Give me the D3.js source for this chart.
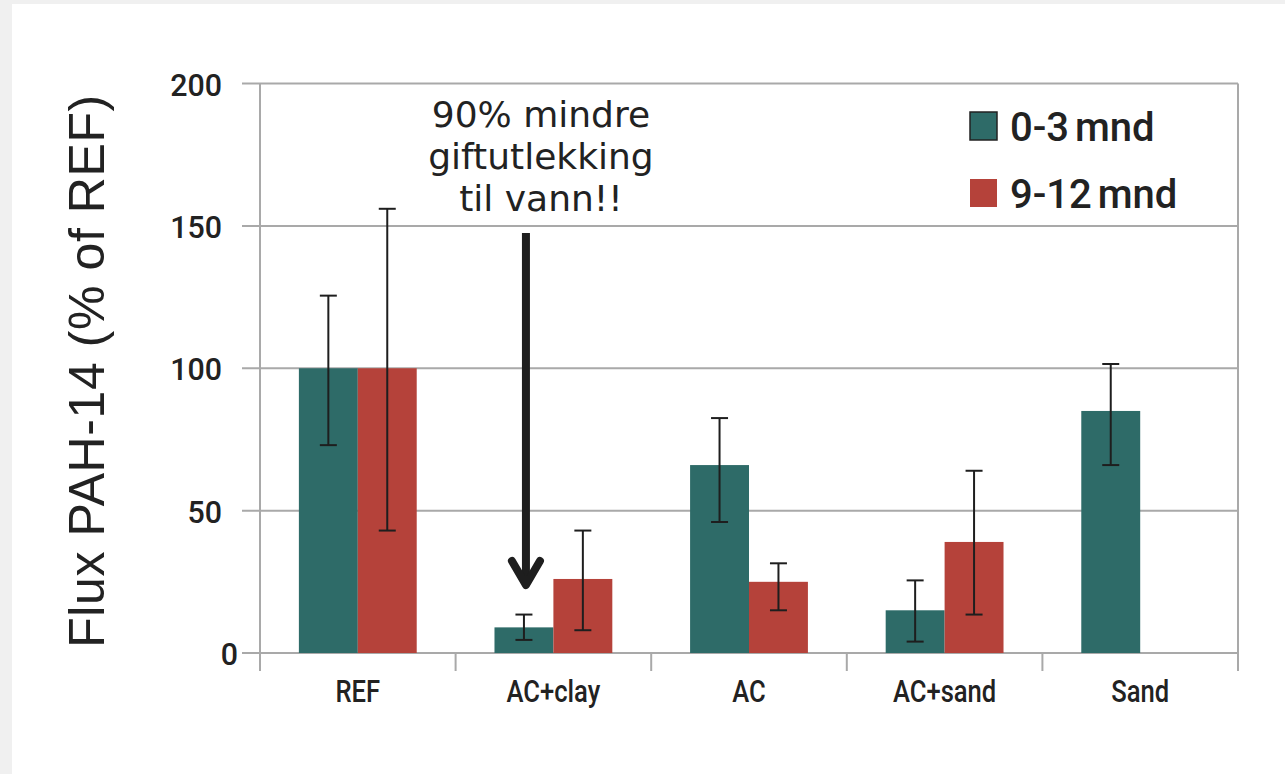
<!DOCTYPE html>
<html>
<head>
<meta charset="utf-8">
<script src="https://cdn.jsdelivr.net/npm/d3@7"></script>
<style>
  html, body { margin: 0; padding: 0; background: #f0f0f0; }
  svg { display: block; }
</style>
</head>
<body>
<div id="chart"></div>
<script>
const categories = ['REF', 'AC+clay', 'AC', 'AC+sand', 'Sand'];
const seriesNames = ['0-3 mnd', '9-12 mnd'];
const seriesColors = ['#2e6b68', '#b5423a'];

// bar heights (% of REF)
const early = [100, 9, 66, 15, 85];
const late = [100, 26, 25, 39, null];
// error bars: low / high ends
const earlyLow = [73, 4.6, 46, 4, 66];
const earlyHigh = [125.5, 13.5, 82.5, 25.5, 101.5];
const lateLow = [43, 8, 15, 13.5, null];
const lateHigh = [156, 43, 31.5, 64, null];

const yTicks = [0, 50, 100, 150, 200];
const note = ['90% mindre', 'giftutlekking', 'til vann!!'];

const W = 1285, H = 774;
const plot = { left: 260, right: 1238, top: 83.5, bottom: 653 };

const svg = d3.select('#chart').append('svg')
  .attr('width', W)
  .attr('height', H);

// white panel
svg.append('rect')
  .attr('x', 12).attr('y', 4)
  .attr('width', W - 12).attr('height', H - 4)
  .attr('fill', '#fff');

const x = d3.scaleBand()
  .domain(categories)
  .range([plot.left, plot.right]);
const xSub = d3.scaleBand()
  .domain(seriesNames)
  .range([0, x.bandwidth()])
  .paddingOuter(0.66);
const y = d3.scaleLinear()
  .domain([0, 200])
  .range([plot.bottom, plot.top]);

const gridColor = '#a9a9a9';

// horizontal grid + y ticks
const grid = svg.append('g');
grid.selectAll('line.h')
  .data(yTicks)
  .join('line')
  .attr('class', 'h')
  .attr('x1', plot.left - 18)
  .attr('x2', plot.right)
  .attr('y1', d => y(d))
  .attr('y2', d => y(d))
  .attr('stroke', gridColor)
  .attr('stroke-width', 2);

grid.selectAll('text.yt')
  .data(yTicks)
  .join('text')
  .attr('class', 'yt')
  .attr('transform', d => `translate(${d === 0 ? plot.left - 22 : plot.left - 38},${y(d) + 12}) scale(0.95,1)`)
  .attr('text-anchor', 'end')
  .style('font-family', 'Roboto, sans-serif')
  .style('font-size', '32px')
  .style('font-weight', 500)
  .style('fill', '#222')
  .text(d => d);

// vertical frame lines
[plot.left, plot.right].forEach(px => {
  grid.append('line')
    .attr('x1', px).attr('x2', px)
    .attr('y1', plot.top).attr('y2', plot.bottom + 18)
    .attr('stroke', gridColor)
    .attr('stroke-width', 2);
});
// category separators below the axis
grid.selectAll('line.sep')
  .data(categories.slice(1))
  .join('line')
  .attr('class', 'sep')
  .attr('x1', d => x(d)).attr('x2', d => x(d))
  .attr('y1', plot.bottom).attr('y2', plot.bottom + 18)
  .attr('stroke', gridColor)
  .attr('stroke-width', 2);

// x labels (narrow grotesque look)
svg.append('g').selectAll('text')
  .data(categories)
  .join('text')
  .attr('transform', d => `translate(${x(d) + x.bandwidth() / 2},702) scale(0.8,1)`)
  .attr('text-anchor', 'middle')
  .style('font-family', 'Roboto, sans-serif')
  .style('font-size', '32px')
  .style('font-weight', 500)
  .style('fill', '#222')
  .text(d => d);

// bars
const rows = categories.map((c, i) => ({
  cat: c,
  vals: [
    { s: seriesNames[0], v: early[i], lo: earlyLow[i], hi: earlyHigh[i], color: seriesColors[0] },
    { s: seriesNames[1], v: late[i], lo: lateLow[i], hi: lateHigh[i], color: seriesColors[1] }
  ].filter(d => d.v != null)
}));

const groups = svg.append('g').selectAll('g')
  .data(rows)
  .join('g')
  .attr('transform', d => `translate(${x(d.cat)},0)`);

groups.selectAll('rect')
  .data(d => d.vals)
  .join('rect')
  .attr('x', d => xSub(d.s))
  .attr('y', d => y(d.v))
  .attr('width', xSub.bandwidth())
  .attr('height', d => y(0) - y(d.v))
  .attr('fill', d => d.color);

// error bars
const capW = 17;
const err = groups.selectAll('g.err')
  .data(d => d.vals)
  .join('g')
  .attr('class', 'err')
  .attr('transform', d => `translate(${xSub(d.s) + xSub.bandwidth() / 2},0)`)
  .attr('stroke', '#1e1e1e')
  .attr('stroke-width', 2);
err.append('line')
  .attr('y1', d => y(d.lo)).attr('y2', d => y(d.hi));
err.append('line')
  .attr('x1', -capW / 2).attr('x2', capW / 2)
  .attr('y1', d => y(d.hi)).attr('y2', d => y(d.hi));
err.append('line')
  .attr('x1', -capW / 2).attr('x2', capW / 2)
  .attr('y1', d => y(d.lo)).attr('y2', d => y(d.lo));

// y axis title
svg.append('text')
  .attr('transform', `translate(104,${(plot.top + plot.bottom) / 2 + 3}) rotate(-90)`)
  .attr('text-anchor', 'middle')
  .style('font-family', '"Liberation Sans", Arial, sans-serif')
  .style('font-size', '50px')
  .style('fill', '#222')
  .attr('textLength', 553)
  .text('Flux PAH-14 (% of REF)');

// legend
const legend = svg.append('g').attr('transform', 'translate(970,112)');
const li = legend.selectAll('g')
  .data(seriesNames)
  .join('g')
  .attr('transform', (d, i) => `translate(0,${i * 67})`);
li.append('rect')
  .attr('width', 27).attr('height', 28)
  .attr('fill', (d, i) => seriesColors[i])
  .attr('stroke', (d, i) => i === 0 ? '#222' : 'none')
  .attr('stroke-width', 1.5);
li.append('text')
  .attr('transform', 'translate(40,29)')
  .style('font-family', 'Roboto, sans-serif')
  .style('font-size', '40px')
  .style('font-weight', 500)
  .style('word-spacing', '-4px')
  .style('fill', '#222')
  .text(d => d);

// annotation
const target = x('AC+clay') + xSub(seriesNames[0]) + xSub.bandwidth() / 2;
svg.append('text')
  .attr('x', target + 17)
  .attr('y', 127)
  .attr('text-anchor', 'middle')
  .style('font-family', '"DejaVu Sans", sans-serif')
  .style('font-size', '36px')
  .style('fill', '#222')
  .selectAll('tspan')
  .data(note)
  .join('tspan')
  .attr('x', target + 17)
  .attr('dy', (d, i) => i === 0 ? 0 : 42)
  .text(d => d);

const tipY = y(22.5);
svg.append('line')
  .attr('x1', target + 2).attr('x2', target + 2)
  .attr('y1', 233).attr('y2', tipY - 6)
  .attr('stroke', '#1e1e1e')
  .attr('stroke-width', 8);
svg.append('path')
  .attr('d', `M${target + 2 - 14},${tipY - 28} L${target + 2},${tipY - 4} L${target + 2 + 14},${tipY - 28}`)
  .attr('fill', 'none')
  .attr('stroke', '#1e1e1e')
  .attr('stroke-width', 8)
  .attr('stroke-linecap', 'round')
  .attr('stroke-linejoin', 'round');
</script>
</body>
</html>
